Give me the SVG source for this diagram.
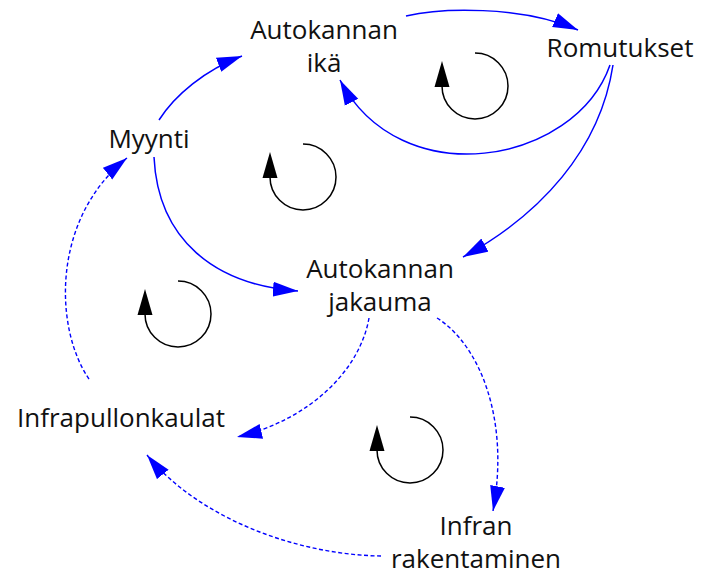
<svg xmlns="http://www.w3.org/2000/svg" width="701" height="579" viewBox="0 0 701 579">
<style>
text{font-family:"Open Sans","DejaVu Sans",sans-serif;font-size:26px;fill:#111;text-anchor:middle}
.c{fill:none;stroke:#0000ff;stroke-width:1.5}
.d{fill:none;stroke:#0000ff;stroke-width:1.4;stroke-dasharray:4 2.5}
.l{fill:none;stroke:#000;stroke-width:1.5}
</style>
<defs>
<marker id="a" markerUnits="userSpaceOnUse" markerWidth="27" markerHeight="16" refX="25" refY="7.5" orient="auto" viewBox="0 0 27 15">
<path d="M0,0 L25,7.5 L0,15 z" fill="#0000ff"/>
</marker>
<g id="loopsym">
<path class="l" d="M0,-33 A33,33 0 1 1 -33,0"/>
<path d="M-33,-25 L-25.5,1 L-40.5,1 z" fill="#000"/>
</g>
</defs>
<g id="connectors">
<path class="c" marker-end="url(#a)" d="M406,16 C440,8 520,5 578,30"/>
<path class="c" marker-end="url(#a)" d="M610,65 C575,165 400,195 340,80"/>
<path class="c" marker-end="url(#a)" d="M613,65 C600,150 540,215 463,257"/>
<path class="c" marker-end="url(#a)" d="M159,120 C175,95 205,70 242,56"/>
<path class="c" marker-end="url(#a)" d="M154,157 C158,240 215,285 298,291"/>
<path class="d" marker-end="url(#a)" d="M89,379 C55,330 50,220 127,158"/>
<path class="d" marker-end="url(#a)" d="M369,318 C360,370 310,420 237,437"/>
<path class="d" marker-end="url(#a)" d="M437,318 C480,345 510,420 493,511"/>
<path class="d" marker-end="url(#a)" d="M381,556 C300,555 200,520 147,455"/>
</g>
<g id="loops">
<use href="#loopsym" x="475" y="86"/>
<use href="#loopsym" x="303" y="177"/>
<use href="#loopsym" x="178" y="314"/>
<use href="#loopsym" x="410" y="450"/>
</g>
<g id="n-ika"><text x="324" y="39">Autokannan</text><text x="324" y="72">ikä</text></g>
<g id="n-romutukset"><text x="620" y="57">Romutukset</text></g>
<g id="n-myynti"><text x="149" y="148">Myynti</text></g>
<g id="n-jakauma"><text x="380" y="278">Autokannan</text><text x="380" y="311">jakauma</text></g>
<g id="n-infrapullonkaulat"><text x="121" y="427">Infrapullonkaulat</text></g>
<g id="n-infran"><text x="476" y="535">Infran</text><text x="476" y="568">rakentaminen</text></g>
</svg>
